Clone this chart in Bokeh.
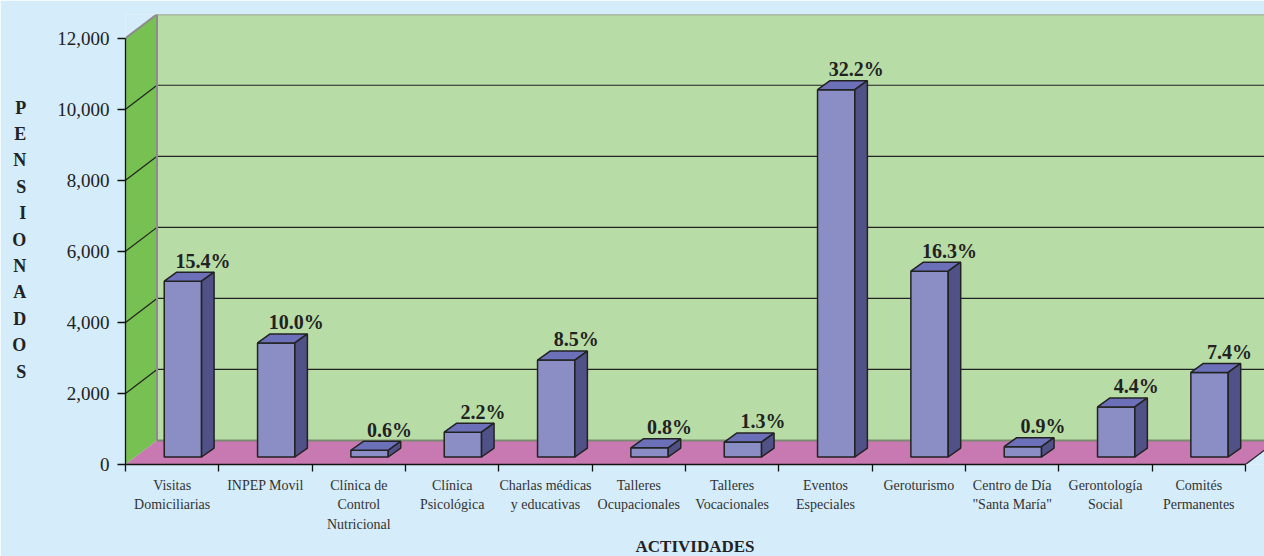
from bokeh.plotting import figure
from bokeh.models import FixedTicker, NumeralTickFormatter, ColumnDataSource, Range1d
from bokeh.embed import file_html
from bokeh.resources import INLINE
from bokeh.core.properties import value

# ---------------- data ----------------
categories = [
    "Visitas\nDomiciliarias", "INPEP Movil", "Clínica de\nControl\nNutricional",
    "Clínica\nPsicológica", "Charlas médicas\ny educativas", "Talleres\nOcupacionales",
    "Talleres\nVocacionales", "Eventos\nEspeciales", "Geroturismo",
    "Centro de Día\n\"Santa María\"", "Gerontología\nSocial", "Comités\nPermanentes",
]
pensionados = [4950, 3210, 190, 700, 2730, 260, 420, 10340, 5230, 290, 1410, 2380]
pct_labels = ["15.4%", "10.0%", "0.6%", "2.2%", "8.5%", "0.8%", "1.3%",
              "32.2%", "16.3%", "0.9%", "4.4%", "7.4%"]
y_ticks = [0, 2000, 4000, 6000, 8000, 10000, 12000]
y_title = "PENSIONADOS"
x_title = "ACTIVIDADES"

# ---------------- geometry (data units) ----------------
N = len(categories)
Y_MAX = y_ticks[-1]
WALL_DX, WALL_DY = 0.3375, 675      # depth of the 3D box
BAR_X0, BAR_W = 0.415, 0.40         # bar front face within category
BAR_Y0 = 211                        # bar base (depth offset)
SIDE_DX, SIDE_DY = 0.134, 253       # bar depth
LAB_DX, LAB_DY = 0.215, 580         # percentage label offset
RIGHT = 13.0

BG = "#D5ECFA"
BACK = "#B8DCA6"
SIDEWALL = "#77C153"
FLOOR = "#C879B1"
FRONT = "#8B8EC5"
TOP = "#6C70B8"
SIDE = "#505187"
EDGE = "#222222"
GREY = "#8C8C8C"

p = figure(frame_width=1139, frame_height=450,
           min_border_left=125, min_border_right=0, min_border_top=14, min_border_bottom=92,
           x_range=Range1d(0, 12.204), y_range=Range1d(0, 12667),
           output_backend="svg", toolbar_location=None,
           background_fill_color=BG, border_fill_color=BG)
p.outline_line_color = None
p.xgrid.visible = False
p.ygrid.visible = False

# walls and floor
p.patch([0, WALL_DX, WALL_DX, 0], [0, WALL_DY, Y_MAX + WALL_DY, Y_MAX],
        fill_color=SIDEWALL, line_color=None)
p.patch([WALL_DX, RIGHT, RIGHT, WALL_DX], [WALL_DY, WALL_DY, Y_MAX + WALL_DY, Y_MAX + WALL_DY],
        fill_color=BACK, line_color=None)
p.patch([0, N, N + WALL_DX, RIGHT, RIGHT, WALL_DX], [0, 0, WALL_DY, WALL_DY, WALL_DY, WALL_DY],
        fill_color=FLOOR, line_color=None)

# gridlines
grid = y_ticks[1:-1]
p.segment(x0=[0] * len(grid), y0=grid, x1=[WALL_DX] * len(grid), y1=[g + WALL_DY for g in grid],
          line_color=EDGE, line_width=1.2)
p.segment(x0=[WALL_DX] * len(grid), y0=[g + WALL_DY for g in grid], x1=[RIGHT] * len(grid),
          y1=[g + WALL_DY for g in grid], line_color=EDGE, line_width=1.2)
# wall edges
p.line([0, WALL_DX, RIGHT], [Y_MAX, Y_MAX + WALL_DY, Y_MAX + WALL_DY], line_color=GREY, line_width=2)
p.line([WALL_DX, WALL_DX], [WALL_DY, Y_MAX + WALL_DY], line_color=GREY, line_width=2)
p.line([WALL_DX, RIGHT], [WALL_DY, WALL_DY], line_color="#7A8A70", line_width=2)
p.line([N, N + WALL_DX], [0, WALL_DY], line_color=EDGE, line_width=1.2)

# bars
x0 = [i + BAR_X0 for i in range(N)]
x1 = [i + BAR_X0 + BAR_W for i in range(N)]
tops = [BAR_Y0 + v for v in pensionados]
p.quad(left=x0, right=x1, bottom=[BAR_Y0] * N, top=tops,
       fill_color=FRONT, line_color=EDGE, line_width=1.5)
top_xs = [[a, b, b + SIDE_DX, a + SIDE_DX] for a, b in zip(x0, x1)]
top_ys = [[t, t, t + SIDE_DY, t + SIDE_DY] for t in tops]
p.patches(top_xs, top_ys, fill_color=TOP, line_color=EDGE, line_width=1.5)
side_xs = [[b, b + SIDE_DX, b + SIDE_DX, b] for b in x1]
side_ys = [[BAR_Y0, BAR_Y0 + SIDE_DY, t + SIDE_DY, t] for t in tops]
p.patches(side_xs, side_ys, fill_color=SIDE, line_color=EDGE, line_width=1.5)

# percentage labels
src = ColumnDataSource(dict(x=[i + BAR_X0 + BAR_W / 2 + LAB_DX for i in range(N)],
                            y=[t + LAB_DY for t in tops], text=pct_labels))
p.text(x="x", y="y", text="text", source=src, text_font=value("Liberation Serif"),
       text_font_style="bold", text_font_size="20px", text_color="#222222",
       text_align="center", text_baseline="alphabetic")

# y axis
ya = p.yaxis[0]
ya.ticker = FixedTicker(ticks=y_ticks)
ya.formatter = NumeralTickFormatter(format="0,0")
ya.bounds = (0, Y_MAX)
ya.major_tick_out = 8
ya.major_tick_in = 0
ya.minor_tick_out = 0
ya.minor_tick_in = 0
ya.major_label_standoff = 8
ya.major_label_text_font = "Liberation Serif"
ya.major_label_text_font_size = "19px"
ya.major_label_text_color = "#222222"
ya.axis_line_color = "#111111"
ya.axis_line_width = 1.3
ya.major_tick_line_color = "#111111"
ya.major_tick_line_width = 1.3

# vertical, stacked y title
ya.axis_label = "\n".join(y_title)
ya.axis_label_orientation = "horizontal"
ya.axis_label_standoff = 28
ya.axis_label_text_font = "Liberation Serif"
ya.axis_label_text_font_style = "bold"
ya.axis_label_text_font_size = "18px"
ya.axis_label_text_color = "#222222"
ya.axis_label_text_line_height = 1.32

# x axis
xa = p.xaxis[0]
centers = [i + 0.5 for i in range(N)]
xa.ticker = FixedTicker(ticks=centers, minor_ticks=list(range(N + 1)))
xa.major_label_overrides = {c: lab for c, lab in zip(centers, categories)}
xa.bounds = (0, N)
xa.major_tick_out = 0
xa.major_tick_in = 0
xa.minor_tick_out = 7
xa.minor_tick_in = 0
xa.minor_tick_line_color = "#111111"
xa.minor_tick_line_width = 1.3
xa.axis_line_color = "#111111"
xa.axis_line_width = 1.3
xa.major_label_standoff = 6
xa.major_label_text_font = "Liberation Serif"
xa.major_label_text_font_size = "14px"
xa.major_label_text_color = "#333333"
xa.major_label_text_line_height = 1.3
xa.major_label_orientation = "horizontal"

# x title
xa.axis_label = x_title
xa.axis_label_standoff = 2
xa.axis_label_text_font = "Liberation Serif"
xa.axis_label_text_font_style = "bold"
xa.axis_label_text_font_size = "17px"
xa.axis_label_text_color = "#222222"

open("out.html", "w").write(file_html(p, INLINE))
